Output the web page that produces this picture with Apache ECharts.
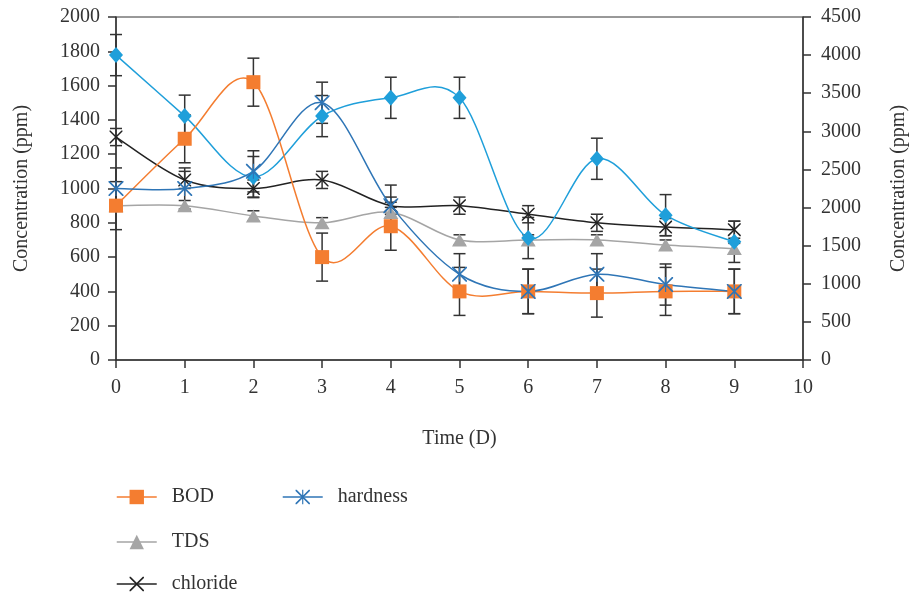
<!DOCTYPE html>
<html>
<head>
<meta charset="utf-8">
<script src="https://cdn.jsdelivr.net/npm/echarts@6/dist/echarts.min.js"></script>
<style>html,body{margin:0;padding:0;background:#fff;}#c{width:910px;height:599px;}</style>
</head>
<body>
<div id="c"></div>
<script>
// ---- data ----
const days = [0, 1, 2, 3, 4, 5, 6, 7, 8, 9];
const bod = [900, 1290, 1620, 600, 780, 400, 400, 390, 400, 400];
const bodErr = [140, 140, 140, 140, 140, 140, 130, 140, 140, 130];
const tds = [900, 900, 840, 800, 860, 700, 700, 700, 670, 650];
const tdsErr = [30, 30, 30, 30, 30, 30, 30, 30, 30, 30];
const chloride = [1300, 1050, 1000, 1050, 900, 900, 850, 800, 775, 760];
const chlorideErr = [50, 50, 50, 50, 50, 50, 50, 50, 50, 50];
const hardness = [1000, 1000, 1100, 1500, 900, 500, 400, 500, 440, 400];
const hardnessErr = [120, 120, 120, 120, 120, 120, 130, 120, 120, 130];
const cod = [4000, 3200, 2400, 3200, 3440, 3440, 1600, 2640, 1900, 1550]; // right axis
const codErr = [270, 275, 270, 270, 270, 270, 270, 270, 270, 270];
const leftTicks = {min: 0, max: 2000, interval: 200};
const rightTicks = {min: 0, max: 4500, interval: 500};
const xTicks = {min: 0, max: 10, interval: 1};

const FONT = 'Liberation Serif';
const TXT = '#333';
const C_BOD = '#F47D30', C_TDS = '#A5A5A5', C_CL = '#222222', C_COD = '#1F9FDA', C_HARD = '#2E75B6';

const xPath = 'path://M0,0 L1.6,0 L10,8.4 L18.4,0 L20,0 L20,1.6 L11.6,10 L20,18.4 L20,20 L18.4,20 L10,11.6 L1.6,20 L0,20 L0,18.4 L8.4,10 L0,1.6 Z';
const starPath = 'path://M0,0 L1.6,0 L9.2,7.6 L9.2,0 L10.8,0 L10.8,7.6 L18.4,0 L20,0 L20,1.6 L11.6,10 L20,18.4 L20,20 L18.4,20 L10.8,12.4 L10.8,20 L9.2,20 L9.2,12.4 L1.6,20 L0,20 L0,18.4 L8.4,10 L0,1.6 Z';

function pairs(vals) { return days.map((d, i) => [d, vals[i]]); }
function errData(vals, err) { return days.map((d, i) => [d, vals[i] - err[i], vals[i] + err[i]]); }

function errSeries(vals, err, yIdx) {
  return {
    type: 'custom', yAxisIndex: yIdx, z: 1, silent: true,
    encode: {x: 0, y: [1, 2]},
    data: errData(vals, err),
    renderItem: function (params, api) {
      const x = api.value(0), lo = api.value(1), hi = api.value(2);
      const p1 = api.coord([x, lo]), p2 = api.coord([x, hi]);
      const w = 6;
      const st = {stroke: '#333', lineWidth: 1.5};
      return {type: 'group', children: [
        {type: 'line', shape: {x1: p1[0], y1: p1[1], x2: p2[0], y2: p2[1]}, style: st},
        {type: 'line', shape: {x1: p1[0] - w, y1: p1[1], x2: p1[0] + w, y2: p1[1]}, style: st},
        {type: 'line', shape: {x1: p2[0] - w, y1: p2[1], x2: p2[0] + w, y2: p2[1]}, style: st}
      ]};
    }
  };
}

// smooth (Catmull-Rom style) curve through the data points, drawn in pixel space from the axis coords
function curveSeries(vals, color, yIdx) {
  const n = vals.length;
  return {
    type: 'custom', yAxisIndex: yIdx, z: 2, silent: true,
    encode: {x: 0, y: 1},
    data: pairs(vals),
    renderItem: function (params, api) {
      const i = params.dataIndex;
      if (i >= n - 1) return null;
      const P = function (k) { k = Math.max(0, Math.min(n - 1, k)); return api.coord([days[k], vals[k]]); };
      const p0 = P(i - 1), p1 = P(i), p2 = P(i + 1), p3 = P(i + 2);
      const t = 1 / 6;
      return {
        type: 'bezierCurve',
        shape: {
          x1: p1[0], y1: p1[1], x2: p2[0], y2: p2[1],
          cpx1: p1[0] + (p2[0] - p0[0]) * t, cpy1: p1[1] + (p2[1] - p0[1]) * t,
          cpx2: p2[0] - (p3[0] - p1[0]) * t, cpy2: p2[1] - (p3[1] - p1[1]) * t
        },
        style: {stroke: color, lineWidth: 1.5, fill: 'none'}
      };
    }
  };
}

function markerSeries(name, vals, color, symbol, size, yIdx) {
  return {
    name: name, type: 'line', yAxisIndex: yIdx, z: 3,
    data: pairs(vals), symbol: symbol, symbolSize: size, showSymbol: true,
    lineStyle: {color: color, width: 0, opacity: 0},
    itemStyle: {color: color, borderWidth: 0},
    emphasis: {disabled: true}
  };
}

const chart = echarts.init(document.getElementById('c'), null, {renderer: 'canvas'});
const fmt = function (v) { return String(v); };
const axisCommon = {
  axisLine: {show: true, lineStyle: {color: '#333', width: 1.5}},
  axisTick: {show: true, length: 8, lineStyle: {color: '#333', width: 1.5}},
  axisLabel: {color: TXT, fontFamily: FONT, fontSize: 20, formatter: fmt},
  splitLine: {show: false},
  nameTextStyle: {color: TXT, fontFamily: FONT, fontSize: 20}
};
const legendText = {color: TXT, fontFamily: FONT, fontSize: 20, padding: [0, 0, 0, 10]};
function legItem(name, color) { return {name: name, lineStyle: {color: color, width: 1.5, opacity: 1}}; }

chart.setOption({
  animation: false,
  backgroundColor: '#fff',
  grid: {left: 116, right: 107, top: 17, bottom: 239, show: true, borderColor: '#333', borderWidth: 1, outerBoundsMode: 'none', containLabel: false},
  legend: [
    {data: [legItem('BOD', C_BOD), legItem('hardness', C_HARD)], left: 111, top: 482, itemWidth: 40, itemHeight: 18, itemGap: 68, textStyle: legendText, selectedMode: false},
    {data: [legItem('TDS', C_TDS)], left: 111, top: 527, itemWidth: 40, itemHeight: 18, textStyle: legendText, selectedMode: false},
    {data: [legItem('chloride', C_CL)], left: 111, top: 569, itemWidth: 40, itemHeight: 18, textStyle: legendText, selectedMode: false}
  ],
  xAxis: Object.assign({}, axisCommon, {
    type: 'value', min: xTicks.min, max: xTicks.max, interval: xTicks.interval,
    name: 'Time (D)', nameLocation: 'middle', nameGap: 69,
    axisLabel: Object.assign({}, axisCommon.axisLabel, {margin: 18})
  }),
  yAxis: [
    Object.assign({}, axisCommon, {
      type: 'value', position: 'left', min: leftTicks.min, max: leftTicks.max, interval: leftTicks.interval,
      name: 'Concentration (ppm)', nameLocation: 'middle', nameGap: 84,
      axisLabel: Object.assign({}, axisCommon.axisLabel, {margin: 16})
    }),
    Object.assign({}, axisCommon, {
      type: 'value', position: 'right', min: rightTicks.min, max: rightTicks.max, interval: rightTicks.interval,
      name: 'Concentration (ppm)', nameLocation: 'middle', nameGap: 86,
      axisLabel: Object.assign({}, axisCommon.axisLabel, {margin: 18})
    })
  ],
  series: [
    errSeries(tds, tdsErr, 0),
    errSeries(chloride, chlorideErr, 0),
    errSeries(hardness, hardnessErr, 0),
    errSeries(bod, bodErr, 0),
    errSeries(cod, codErr, 1),
    curveSeries(tds, C_TDS, 0),
    curveSeries(chloride, C_CL, 0),
    curveSeries(cod, C_COD, 1),
    curveSeries(bod, C_BOD, 0),
    curveSeries(hardness, C_HARD, 0),
    markerSeries('TDS', tds, C_TDS, 'triangle', [15, 13], 0),
    markerSeries('chloride', chloride, C_CL, xPath, 13, 0),
    markerSeries('COD', cod, C_COD, 'diamond', [14, 16], 1),
    markerSeries('BOD', bod, C_BOD, 'rect', 14, 0),
    markerSeries('hardness', hardness, C_HARD, starPath, 15, 0)
  ]
});
</script>
</body>
</html>
